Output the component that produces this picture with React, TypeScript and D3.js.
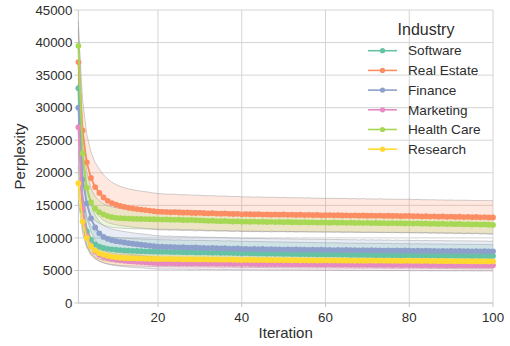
import React from "react";
import * as d3 from "d3";

const iterations: number[] = d3.range(1, 101);

const seriesNames = ["Software", "Real Estate", "Finance", "Marketing", "Health Care", "Research"];
const seriesColors = ["#66c2a5", "#fc8d62", "#8da0cb", "#e78ac3", "#a6d854", "#ffd92f"];

const softwareMean = [
  33000, 14200, 11000, 9700, 9000, 8650, 8450, 8320, 8240, 8180,
  8130, 8090, 8050, 8020, 7990, 7960, 7940, 7920, 7900, 7880,
  7860, 7880, 7840, 7820, 7850, 7800, 7790, 7810, 7770, 7760,
  7780, 7740, 7730, 7750, 7710, 7700, 7720, 7680, 7670, 7630,
  7660, 7620, 7640, 7600, 7620, 7580, 7600, 7560, 7580, 7540,
  7560, 7520, 7540, 7500, 7520, 7480, 7500, 7460, 7480, 7450,
  7460, 7430, 7450, 7410, 7430, 7390, 7410, 7380, 7400, 7370,
  7390, 7350, 7370, 7340, 7360, 7320, 7350, 7310, 7340, 7320,
  7300, 7330, 7290, 7310, 7280, 7300, 7270, 7290, 7260, 7280,
  7250, 7270, 7240, 7260, 7230, 7250, 7220, 7240, 7210, 7220,
];
const softwareStd = [
  4000, 2800, 2300, 2100, 2000, 1950, 1920, 1900, 1890, 1880,
  1880, 1870, 1880, 1860, 1870, 1860, 1850, 1870, 1850, 1860,
  1850, 1840, 1860, 1840, 1850, 1830, 1850, 1840, 1830, 1850,
  1830, 1840, 1820, 1840, 1830, 1820, 1840, 1820, 1830, 1810,
  1830, 1810, 1820, 1830, 1810, 1820, 1800, 1820, 1810, 1800,
  1820, 1800, 1810, 1790, 1810, 1800, 1790, 1810, 1790, 1800,
  1790, 1810, 1790, 1800, 1780, 1800, 1790, 1780, 1800, 1780,
  1790, 1780, 1800, 1780, 1790, 1770, 1790, 1780, 1770, 1790,
  1770, 1780, 1760, 1780, 1770, 1760, 1780, 1760, 1770, 1760,
  1770, 1760, 1780, 1760, 1770, 1750, 1770, 1760, 1750, 1760,
];

const realEstateMean = [
  37000, 26500, 21600, 19200, 17800, 16900, 16200, 15700, 15350, 15100,
  14900, 14750, 14620, 14520, 14430, 14350, 14270, 14200, 14100, 14020,
  14000, 13960, 13930, 13970, 13900, 13870, 13900, 13840, 13820, 13850,
  13790, 13770, 13800, 13740, 13720, 13750, 13690, 13670, 13700, 13620,
  13650, 13630, 13600, 13640, 13580, 13610, 13570, 13600, 13560, 13590,
  13540, 13570, 13520, 13550, 13510, 13540, 13490, 13520, 13470, 13480,
  13500, 13460, 13490, 13440, 13470, 13430, 13460, 13410, 13440, 13400,
  13430, 13390, 13420, 13370, 13400, 13360, 13390, 13340, 13370, 13360,
  13320, 13350, 13300, 13330, 13280, 13310, 13260, 13290, 13240, 13270,
  13220, 13250, 13200, 13230, 13180, 13210, 13160, 13190, 13140, 13150,
];
const realEstateStd = [
  5200, 4700, 4300, 4000, 3800, 3650, 3500, 3350, 3200, 3100,
  3000, 2950, 2900, 2870, 2850, 2830, 2820, 2800, 2790, 2780,
  2770, 2760, 2770, 2750, 2740, 2750, 2730, 2720, 2740, 2710,
  2700, 2720, 2690, 2700, 2680, 2690, 2670, 2680, 2660, 2670,
  2650, 2670, 2640, 2660, 2650, 2630, 2650, 2640, 2620, 2640,
  2630, 2610, 2630, 2620, 2600, 2620, 2610, 2590, 2610, 2600,
  2590, 2610, 2580, 2600, 2590, 2570, 2590, 2580, 2600, 2570,
  2580, 2560, 2590, 2570, 2560, 2580, 2550, 2570, 2560, 2580,
  2550, 2570, 2560, 2540, 2570, 2550, 2560, 2540, 2560, 2550,
  2560, 2540, 2570, 2550, 2560, 2540, 2570, 2550, 2580, 2560,
];

const financeMean = [
  30000, 19000, 15300, 13000, 11600, 10700, 10150, 9850, 9650, 9500,
  9400, 9290, 9190, 9100, 9020, 8950, 8880, 8800, 8720, 8650,
  8640, 8600, 8620, 8570, 8550, 8580, 8520, 8500, 8530, 8480,
  8460, 8440, 8470, 8410, 8400, 8420, 8360, 8340, 8370, 8300,
  8320, 8280, 8300, 8260, 8290, 8240, 8270, 8230, 8250, 8210,
  8240, 8200, 8220, 8180, 8210, 8170, 8200, 8160, 8180, 8150,
  8170, 8130, 8160, 8120, 8140, 8100, 8130, 8090, 8120, 8080,
  8110, 8070, 8090, 8050, 8080, 8040, 8070, 8030, 8060, 8040,
  8010, 8040, 8000, 8030, 7990, 8020, 7980, 8010, 7970, 8000,
  7960, 7990, 7950, 7980, 7940, 7970, 7930, 7960, 7920, 7940,
];
const financeStd = [
  3600, 2800, 2300, 2050, 1900, 1800, 1750, 1720, 1700, 1690,
  1690, 1680, 1690, 1670, 1680, 1670, 1660, 1680, 1660, 1670,
  1660, 1650, 1670, 1650, 1660, 1640, 1660, 1650, 1640, 1660,
  1640, 1650, 1630, 1650, 1640, 1630, 1650, 1630, 1640, 1620,
  1640, 1620, 1630, 1640, 1620, 1630, 1610, 1630, 1620, 1610,
  1630, 1610, 1620, 1600, 1620, 1610, 1600, 1620, 1600, 1610,
  1600, 1620, 1600, 1610, 1590, 1610, 1600, 1590, 1610, 1590,
  1600, 1590, 1610, 1590, 1600, 1580, 1600, 1590, 1580, 1600,
  1580, 1590, 1570, 1590, 1580, 1570, 1590, 1570, 1580, 1570,
  1580, 1570, 1590, 1570, 1580, 1560, 1580, 1570, 1560, 1570,
];

const marketingMean = [
  27000, 14500, 10300, 8700, 7900, 7400, 7100, 6900, 6750, 6640,
  6560, 6490, 6430, 6380, 6330, 6290, 6240, 6200, 6150, 6100,
  6110, 6090, 6120, 6080, 6070, 6100, 6060, 6050, 6080, 6040,
  6060, 6030, 6050, 6020, 6040, 6010, 6030, 6000, 6020, 5990,
  6010, 5980, 6000, 5970, 5990, 5960, 5990, 5950, 5980, 5950,
  5970, 5940, 5960, 5930, 5950, 5920, 5940, 5910, 5930, 5900,
  5920, 5890, 5910, 5880, 5900, 5870, 5890, 5860, 5880, 5860,
  5870, 5850, 5870, 5840, 5860, 5830, 5860, 5830, 5850, 5840,
  5820, 5840, 5810, 5840, 5800, 5830, 5800, 5820, 5790, 5810,
  5800, 5820, 5790, 5810, 5780, 5800, 5770, 5800, 5780, 5790,
];
const marketingStd = [
  3500, 2200, 1500, 1200, 1050, 980, 950, 930, 920, 910,
  910, 900, 910, 900, 905, 895, 900, 910, 895, 900,
  905, 895, 900, 890, 905, 895, 890, 900, 885, 895,
  900, 890, 895, 885, 900, 890, 885, 895, 880, 890,
  895, 885, 890, 880, 895, 885, 880, 890, 875, 885,
  890, 880, 885, 875, 890, 880, 875, 885, 870, 880,
  885, 875, 880, 870, 885, 875, 870, 880, 865, 875,
  880, 870, 875, 865, 880, 870, 865, 875, 860, 870,
  875, 865, 870, 860, 875, 865, 860, 870, 855, 865,
  870, 860, 865, 855, 870, 860, 855, 865, 850, 860,
];

const healthCareMean = [
  39500, 23000, 17700, 15500, 14500, 13950, 13600, 13350, 13180, 13080,
  13030, 12990, 12960, 12940, 12920, 12900, 12890, 12870, 12860, 12850,
  12820, 12840, 12790, 12770, 12800, 12750, 12730, 12760, 12710, 12690,
  12660, 12620, 12640, 12590, 12570, 12600, 12540, 12520, 12550, 12490,
  12510, 12480, 12500, 12460, 12480, 12440, 12470, 12430, 12450, 12410,
  12440, 12400, 12420, 12380, 12410, 12370, 12390, 12350, 12380, 12360,
  12340, 12370, 12330, 12350, 12310, 12340, 12300, 12320, 12280, 12310,
  12270, 12300, 12260, 12280, 12240, 12270, 12230, 12260, 12220, 12240,
  12200, 12230, 12180, 12210, 12160, 12190, 12140, 12170, 12120, 12150,
  12100, 12130, 12080, 12110, 12060, 12090, 12040, 12070, 12020, 11980,
];
const healthCareStd = [
  3800, 3000, 2400, 2050, 1850, 1720, 1650, 1600, 1570, 1550,
  1540, 1530, 1540, 1520, 1530, 1510, 1520, 1500, 1510, 1500,
  1510, 1490, 1500, 1480, 1500, 1490, 1470, 1490, 1480, 1470,
  1480, 1460, 1470, 1480, 1460, 1470, 1450, 1470, 1460, 1450,
  1460, 1440, 1460, 1450, 1440, 1460, 1430, 1450, 1440, 1430,
  1450, 1430, 1440, 1420, 1440, 1430, 1420, 1440, 1420, 1430,
  1420, 1440, 1410, 1430, 1420, 1410, 1430, 1400, 1420, 1410,
  1400, 1420, 1410, 1390, 1410, 1400, 1390, 1410, 1380, 1400,
  1390, 1380, 1400, 1370, 1390, 1380, 1370, 1390, 1360, 1380,
  1370, 1360, 1380, 1350, 1370, 1360, 1350, 1370, 1340, 1350,
];

const researchMean = [
  18400, 12500, 10000, 8700, 8050, 7650, 7400, 7220, 7100, 7010,
  6950, 6910, 6880, 6860, 6840, 6820, 6800, 6790, 6770, 6760,
  6750, 6770, 6740, 6730, 6750, 6720, 6710, 6730, 6700, 6690,
  6710, 6680, 6670, 6690, 6660, 6650, 6670, 6640, 6630, 6600,
  6630, 6610, 6620, 6590, 6610, 6580, 6600, 6570, 6590, 6560,
  6580, 6550, 6570, 6540, 6560, 6530, 6550, 6520, 6540, 6550,
  6520, 6540, 6510, 6530, 6500, 6520, 6490, 6510, 6480, 6500,
  6520, 6490, 6510, 6480, 6500, 6470, 6490, 6460, 6480, 6500,
  6460, 6480, 6450, 6470, 6440, 6460, 6430, 6450, 6420, 6440,
  6410, 6430, 6400, 6420, 6390, 6410, 6380, 6400, 6390, 6400,
];
const researchStd = [
  2600, 1800, 1500, 1350, 1280, 1240, 1220, 1200, 1190, 1180,
  1180, 1170, 1180, 1165, 1175, 1170, 1160, 1175, 1165, 1170,
  1165, 1160, 1170, 1155, 1170, 1160, 1155, 1165, 1150, 1160,
  1165, 1155, 1160, 1150, 1165, 1155, 1150, 1160, 1145, 1155,
  1160, 1150, 1155, 1145, 1160, 1150, 1145, 1155, 1140, 1150,
  1155, 1145, 1150, 1140, 1155, 1145, 1140, 1150, 1135, 1145,
  1150, 1140, 1145, 1135, 1150, 1140, 1135, 1145, 1130, 1140,
  1145, 1135, 1140, 1130, 1145, 1135, 1130, 1140, 1125, 1135,
  1140, 1130, 1135, 1125, 1140, 1130, 1125, 1135, 1120, 1130,
  1135, 1125, 1130, 1120, 1135, 1125, 1120, 1130, 1115, 1125,
];

const seriesMeans = [softwareMean, realEstateMean, financeMean, marketingMean, healthCareMean, researchMean];
const seriesStds = [softwareStd, realEstateStd, financeStd, marketingStd, healthCareStd, researchStd];

const xTicks = [20, 40, 60, 80, 100];
const yTicks = [0, 5000, 10000, 15000, 20000, 25000, 30000, 35000, 40000, 45000];

const xLabel = "Iteration";
const yLabel = "Perplexity";
const legendTitle = "Industry";

const W = 510;
const H = 346;
const FONT = "'Liberation Sans', Arial, Helvetica, sans-serif";

export default function App() {
  const x = d3.scaleLinear().domain([1, 100]).range([78.4, 493]);
  const y = d3.scaleLinear().domain([0, 45000]).range([303, 10]);

  const line = d3
    .line<number>()
    .x((_, i) => x(iterations[i]))
    .y((d) => y(d));

  const bandPath = (mean: number[], std: number[]) =>
    d3
      .area<number>()
      .x((_, i) => x(iterations[i]))
      .y0((d, i) => y(d - std[i]))
      .y1((d, i) => y(d + std[i]))(mean) || "";

  const edgePath = (mean: number[], std: number[], sign: number) =>
    d3
      .line<number>()
      .x((_, i) => x(iterations[i]))
      .y((d, i) => y(d + sign * std[i]))(mean) || "";

  const gridColor = "#d4d4d4";
  const textColor = "#2e2e2e";

  return (
    <svg
      width={W}
      height={H}
      style={{ position: "fixed", left: 0, top: 0, background: "#fff" }}
      fontFamily={FONT}
    >
      {/* gridlines */}
      {yTicks.map((t) => (
        <line key={"gy" + t} x1={x(1)} x2={x(100)} y1={y(t)} y2={y(t)} stroke={gridColor} strokeWidth={1} />
      ))}
      {xTicks.map((t) => (
        <line key={"gx" + t} x1={x(t)} x2={x(t)} y1={y(45000)} y2={y(0)} stroke={gridColor} strokeWidth={1} />
      ))}
      {/* axes */}
      <line x1={x(1)} x2={x(1)} y1={y(45000)} y2={y(0)} stroke="#c8c8c8" strokeWidth={1} />
      <line x1={x(1)} x2={x(100)} y1={y(0)} y2={y(0)} stroke="#c8c8c8" strokeWidth={1} />
      {yTicks.map((t) => (
        <g key={"yt" + t}>
          <line x1={x(1) - 4} x2={x(1)} y1={y(t)} y2={y(t)} stroke="#c8c8c8" />
          <text x={x(1) - 6} y={y(t)} dy="0.35em" textAnchor="end" fontSize={13.3} fill={textColor}>
            {t}
          </text>
        </g>
      ))}
      {xTicks.map((t) => (
        <g key={"xt" + t}>
          <line x1={x(t)} x2={x(t)} y1={y(0)} y2={y(0) + 4} stroke="#c8c8c8" />
          <text x={x(t)} y={321.5} textAnchor="middle" fontSize={13.3} fill={textColor}>
            {t}
          </text>
        </g>
      ))}
      <text x={(x(1) + x(100)) / 2} y={338} textAnchor="middle" fontSize={15} fill={textColor}>
        {xLabel}
      </text>
      <text
        transform={`translate(25,${(y(0) + y(45000)) / 2}) rotate(-90)`}
        textAnchor="middle"
        fontSize={15}
        fill={textColor}
      >
        {yLabel}
      </text>

      {/* bands */}
      {seriesNames.map((n, si) => (
        <g key={"band" + n}>
          <path d={bandPath(seriesMeans[si], seriesStds[si])} fill={seriesColors[si]} fillOpacity={0.2} stroke="none" />
          <path d={edgePath(seriesMeans[si], seriesStds[si], 1)} fill="none" stroke="#8c8c8c" strokeOpacity={0.45} strokeWidth={0.9} />
          <path d={edgePath(seriesMeans[si], seriesStds[si], -1)} fill="none" stroke="#8c8c8c" strokeOpacity={0.45} strokeWidth={0.9} />
        </g>
      ))}

      {/* lines + markers */}
      {seriesNames.map((n, si) => (
        <g key={"line" + n}>
          <path d={line(seriesMeans[si]) || ""} fill="none" stroke={seriesColors[si]} strokeWidth={1.8} />
          {seriesMeans[si].map((v, i) => (
            <circle key={i} cx={x(iterations[i])} cy={y(v)} r={2.9} fill={seriesColors[si]} />
          ))}
        </g>
      ))}

      {/* legend */}
      <text x={426} y={34.5} textAnchor="middle" fontSize={16} fill={textColor}>
        {legendTitle}
      </text>
      {seriesNames.map((n, si) => {
        const ly = 50.7 + si * 19.7;
        return (
          <g key={"lg" + n}>
            <line x1={368} x2={397} y1={ly} y2={ly} stroke={seriesColors[si]} strokeWidth={1.6} />
            <circle cx={382.5} cy={ly} r={2.6} fill={seriesColors[si]} />
            <text x={408} y={ly} dy="0.35em" fontSize={13.6} fill={textColor}>
              {n}
            </text>
          </g>
        );
      })}
    </svg>
  );
}
